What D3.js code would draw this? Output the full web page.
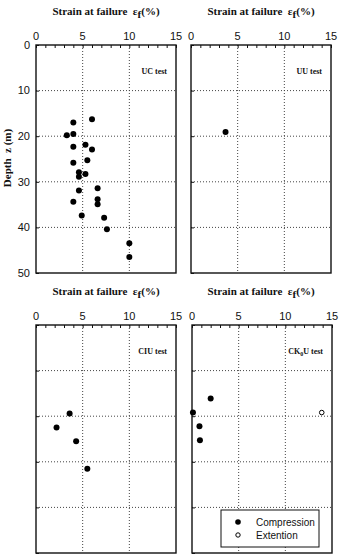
<!DOCTYPE html>
<html>
<head>
<meta charset="utf-8">
<script src="https://cdn.jsdelivr.net/npm/d3@7"></script>
<style>
  body { margin: 0; background: #fff; }
  svg { display: block; }
  text { white-space: pre; }
  .tick-label { font-family: "Liberation Sans", Arial, sans-serif; font-size: 11px; fill: #111; }
  .title { font-family: "Liberation Serif", "Times New Roman", serif; font-weight: bold; font-size: 11px; fill: #111; }
  .panel-label { font-family: "Liberation Serif", "Times New Roman", serif; font-weight: bold; font-size: 8px; fill: #111; }
  .legend-text { font-family: "Liberation Sans", Arial, sans-serif; font-size: 10px; fill: #111; }
</style>
</head>
<body>
<svg id="chart" width="340" height="557"></svg>
<script>
// strain at failure (%) and depth z (m)
const ucStrain = [4.0, 6.0, 3.3, 4.0, 4.0, 5.3, 6.0, 4.0, 5.5, 4.6, 4.6, 5.3, 6.6, 4.6, 6.6, 6.6, 4.0, 4.9, 7.3, 7.6, 10.0, 10.0];
const ucDepth  = [17.0, 16.3, 19.8, 19.5, 22.3, 21.9, 22.9, 25.8, 25.3, 27.9, 28.9, 28.3, 31.4, 31.9, 33.8, 34.9, 34.4, 37.4, 37.9, 40.4, 43.5, 46.5];

const uuStrain = [3.7];
const uuDepth  = [19.1];

const ciuStrain = [3.6, 2.2, 4.3, 5.5];
const ciuDepth  = [19.4, 22.5, 25.5, 31.5];

const ck0uStrain = [2.0, 0.1, 0.8, 0.85, 13.9];
const ck0uDepth  = [16.1, 19.2, 22.2, 25.3, 19.2];
const ck0uMode   = ["C", "C", "C", "C", "E"];

const xTicks = [0, 5, 10, 15];
const yTicks = [0, 10, 20, 30, 40, 50];
const legendItems = ["Compression", "Extention"];

const pw = 140, ph = 228;

const svg = d3.select("#chart");

const x = d3.scaleLinear().domain([0, 15]).range([0, pw]);
const y = d3.scaleLinear().domain([0, 50]).range([0, ph]);

function drawPanel(px, py, strain, depth, mode, label, showY) {
  const g = svg.append("g").attr("transform", `translate(${px},${py})`);

  // dotted grid
  g.selectAll(".gx").data([5, 10]).join("line")
    .attr("x1", d => x(d)).attr("x2", d => x(d))
    .attr("y1", 0).attr("y2", ph)
    .attr("stroke", "#444").attr("stroke-width", 1).attr("stroke-dasharray", "1,2");
  g.selectAll(".gy").data([10, 20, 30, 40]).join("line")
    .attr("y1", d => y(d)).attr("y2", d => y(d))
    .attr("x1", 0).attr("x2", pw)
    .attr("stroke", "#444").attr("stroke-width", 1).attr("stroke-dasharray", "1,2");

  // top axis, inward ticks
  const topAxis = d3.axisTop(x).tickValues(d3.range(0, 16, 1)).tickSize(-3).tickFormat("");
  g.append("g").call(topAxis).call(a => a.select(".domain").remove())
    .selectAll("line").attr("stroke", "#111");
  g.selectAll(".xl").data(xTicks).join("text")
    .attr("class", "tick-label")
    .attr("x", d => x(d)).attr("y", -5)
    .attr("text-anchor", "middle")
    .text(d => d);

  // left axis, inward ticks
  const leftAxis = d3.axisLeft(y).tickValues(yTicks).tickSize(-3).tickFormat("");
  g.append("g").call(leftAxis).call(a => a.select(".domain").remove())
    .selectAll("line").attr("stroke", "#111");
  if (showY) {
    g.selectAll(".yl").data(yTicks).join("text")
      .attr("class", "tick-label")
      .attr("x", -6).attr("y", d => y(d))
      .attr("dy", "0.35em")
      .attr("text-anchor", "end")
      .text(d => d);
  }

  g.append("rect")
    .attr("width", pw).attr("height", ph)
    .attr("fill", "none").attr("stroke", "#111").attr("stroke-width", 1.4);

  const pts = strain.map((s, i) => ({ s: s, z: depth[i], m: mode ? mode[i] : "C" }));
  g.selectAll(".pt").data(pts).join("circle")
    .attr("cx", d => x(d.s)).attr("cy", d => y(d.z))
    .attr("r", d => d.m === "E" ? 2.3 : 3)
    .attr("fill", d => d.m === "E" ? "#fff" : "#000")
    .attr("stroke", "#000").attr("stroke-width", d => d.m === "E" ? 1 : 0);

  const t = g.append("text").attr("class", "panel-label")
    .attr("x", pw - 9).attr("y", 29).attr("text-anchor", "end");
  if (label === "CK0U test") {
    t.append("tspan").text("CK");
    t.append("tspan").attr("dy", 2).attr("font-size", "6px").text("0");
    t.append("tspan").attr("dy", -2).text("U test");
  } else {
    t.text(label);
  }
  return g;
}

function drawTitle(cx, cy) {
  const t = svg.append("text").attr("class", "title")
    .attr("x", cx).attr("y", cy).attr("text-anchor", "middle");
  t.append("tspan").text("Strain at failure  ε");
  t.append("tspan").attr("dy", 2.5).text("f");
  t.append("tspan").attr("dy", -2.5).text("(%)");
}

drawTitle(106, 15);
drawTitle(261, 15);
drawTitle(106, 295);
drawTitle(261, 295);

drawPanel(36, 45, ucStrain, ucDepth, null, "UC test", true);
drawPanel(191, 45, uuStrain, uuDepth, null, "UU test", false);
drawPanel(36, 325, ciuStrain, ciuDepth, null, "CIU test", false);
const br = drawPanel(192, 325, ck0uStrain, ck0uDepth, ck0uMode, "CK0U test", false);

// y axis title
svg.append("text").attr("class", "title")
  .attr("transform", "translate(11,158) rotate(-90)")
  .attr("text-anchor", "middle")
  .attr("font-size", "10.5px")
  .text("Depth  z (m)");

// legend
const lg = br.append("g").attr("transform", "translate(29,185)");
lg.append("rect").attr("width", 98).attr("height", 37)
  .attr("fill", "#fff").attr("stroke", "#111").attr("stroke-width", 1);
lg.selectAll(".lm").data(legendItems).join("circle")
  .attr("cx", 17).attr("cy", (d, i) => 12 + i * 13)
  .attr("r", (d, i) => i === 0 ? 2.8 : 2.2)
  .attr("fill", (d, i) => i === 0 ? "#000" : "#fff")
  .attr("stroke", "#000").attr("stroke-width", (d, i) => i === 0 ? 0 : 1);
lg.selectAll(".lt").data(legendItems).join("text")
  .attr("class", "legend-text")
  .attr("x", 35).attr("y", (d, i) => 16 + i * 13)
  .text(d => d);
</script>
</body>
</html>
